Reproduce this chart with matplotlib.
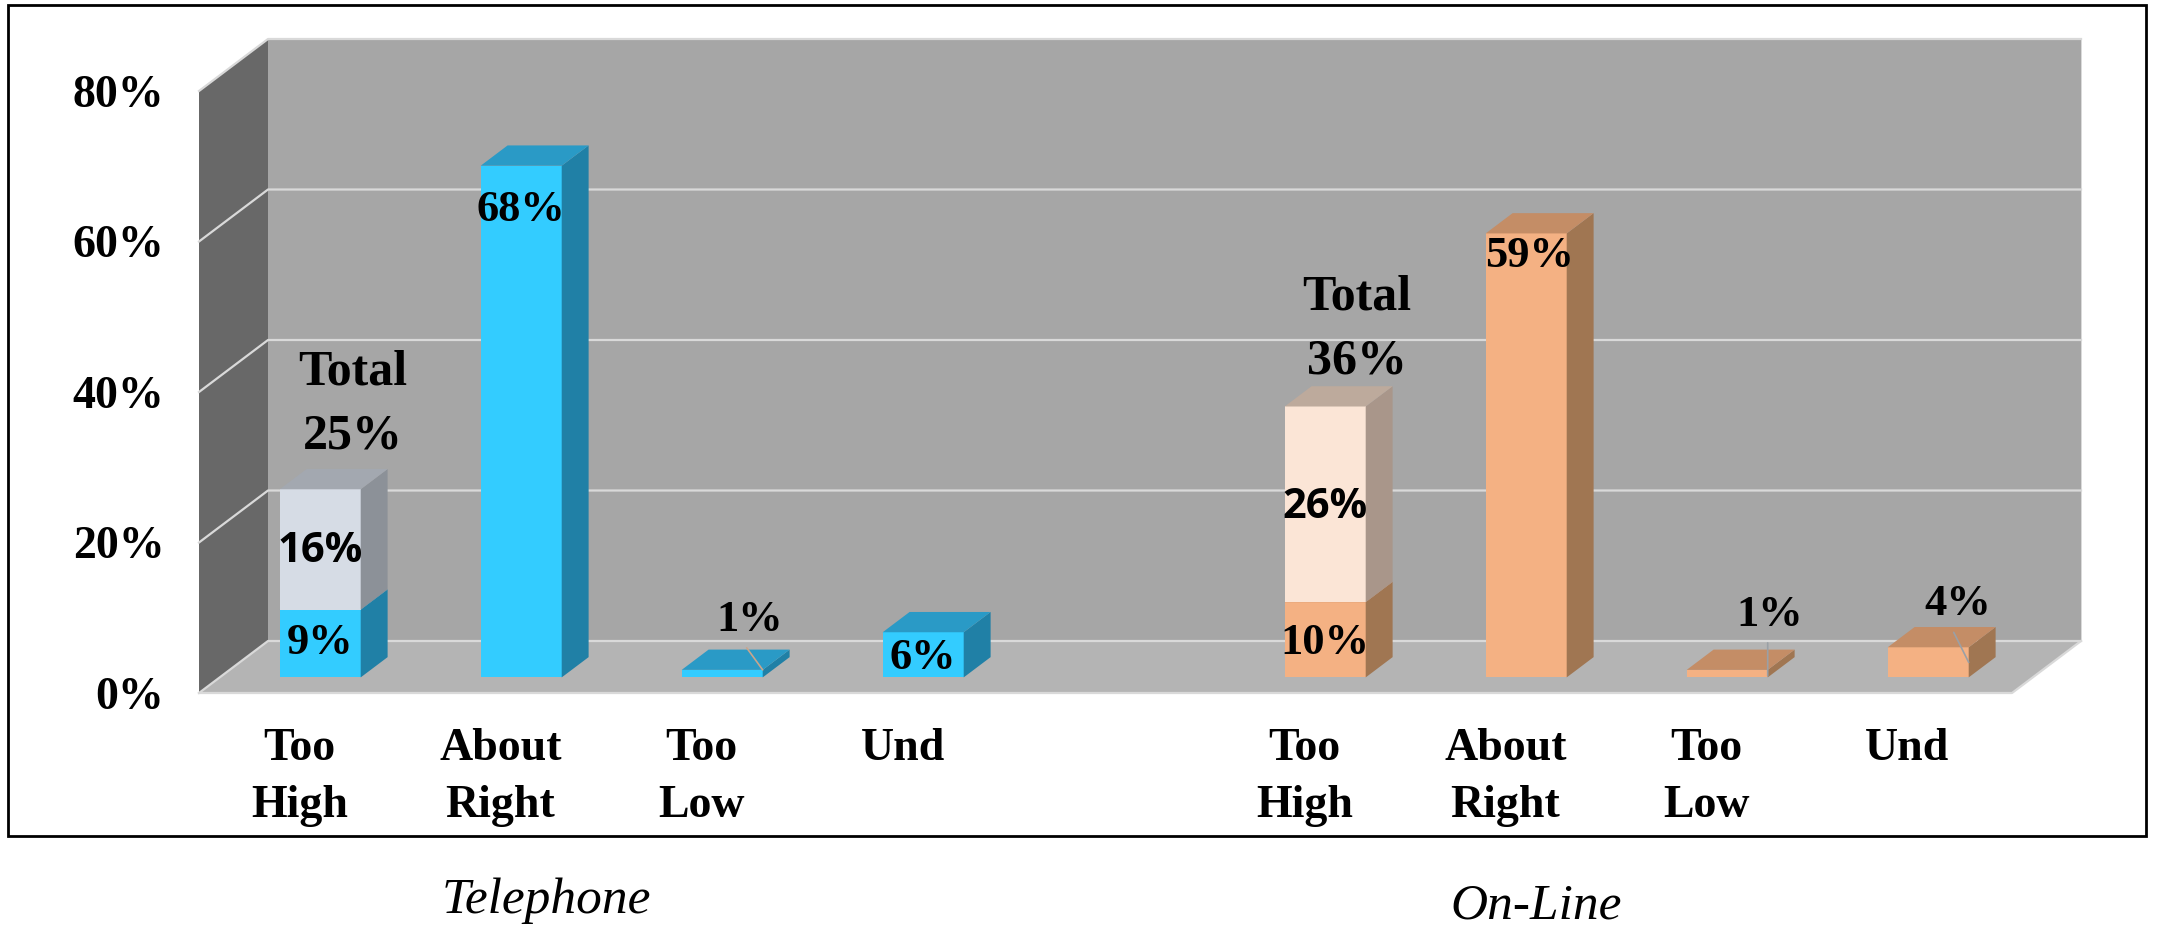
import matplotlib
matplotlib.use('Agg')
import matplotlib.pyplot as plt
from matplotlib.patches import Rectangle

plt.rcParams['font.family'] = ['Liberation Serif', 'DejaVu Serif']

# values
slots = [0, 1, 2, 3, 5, 6, 7, 8]
categories = ['Too\nHigh', 'About\nRight', 'Too\nLow', 'Und'] * 2
base_values = [9, 68, 1, 6, 10, 59, 1, 4]
extra_telephone = 16
extra_online = 26
y_ticks = [0, 20, 40, 60, 80]
groups = ['Telephone', 'On-Line']

W, H = 2157, 946
PX_SLOT = 201.0
PX_PCT = 7.525
DX = 69 / PX_SLOT      # full depth of the chart box, in axis units
DY = 52 / PX_PCT
D0 = 0.30              # where the bars start in the box
DB = 0.39              # depth of one bar
BAR_W = 0.403
X0, X1 = -0.5, 8.52

BLUE = ('#33CCFF', '#2A9AC6', '#2080A6')
PEACH = ('#F4B183', '#C48D66', '#A07652')
GREY_BLUE = ('#D6DCE5', '#A3A8B0', '#8C9198')
LIGHT_PEACH = ('#FBE5D6', '#BDAA9C', '#A9968A')


def draw_box(ax, x, bottom, height, cols):
    front, top, side = cols
    xl = x - BAR_W / 2 + D0 * DX
    xr = x + BAR_W / 2 + D0 * DX
    y0 = bottom + D0 * DY
    y1 = y0 + height
    ddx, ddy = DB * DX, DB * DY
    ax.bar(xl + BAR_W / 2, height, width=BAR_W, bottom=y0, color=front, zorder=3)
    ax.fill([xr, xr + ddx, xr + ddx, xr], [y0, y0 + ddy, y1 + ddy, y1], color=side, lw=0, zorder=3)
    ax.fill([xl, xr, xr + ddx, xl + ddx], [y1, y1, y1 + ddy, y1 + ddy], color=top, lw=0, zorder=3)


def label(ax, slot, value, text, ox, oy, size=32, **kw):
    # ox, oy in pixels, from the middle of the bar front at that value
    ax.annotate(text, xy=(slot + D0 * DX, value + D0 * DY), xytext=(ox, oy),
                textcoords='offset pixels', ha='center', va='center',
                fontsize=size, fontweight=kw.pop('fontweight', 'bold'),
                zorder=6, linespacing=kw.pop('linespacing', 1.35), **kw)


fig = plt.figure(figsize=(W / 100, H / 100), dpi=100, facecolor='white')
ax = fig.add_axes([199 / W, 1 - 693 / H, (X1 + DX - X0) * PX_SLOT / W, (80 + DY) * PX_PCT / H])
ax.set_xlim(X0, X1 + DX)
ax.set_ylim(0, 80 + DY)
for s in ax.spines.values():
    s.set_visible(False)
ax.patch.set_visible(False)

# walls and floor
ax.fill([X0 + DX, X1 + DX, X1 + DX, X0 + DX], [DY, DY, 80 + DY, 80 + DY], color='#A6A6A6', lw=0, zorder=1)
ax.fill([X0, X0 + DX, X0 + DX, X0], [0, DY, 80 + DY, 80], color='#686868', lw=0, zorder=1)
ax.fill([X0, X1, X1 + DX, X0 + DX], [0, 0, DY, DY], color='#B4B4B4', lw=0, zorder=1)

grid_c = '#D9D9D9'
for t in y_ticks:
    ax.plot([X0, X0 + DX, X1 + DX], [t, t + DY, t + DY], color=grid_c, lw=1.6, zorder=2, clip_on=False)
ax.plot([X0, X1, X1 + DX], [0, 0, DY], color=grid_c, lw=1.6, zorder=2, clip_on=False)
ax.plot([X1 + DX, X1 + DX], [DY, 80 + DY], color=grid_c, lw=0.7, zorder=2, clip_on=False)

# bars
for i, (slot, v) in enumerate(zip(slots, base_values)):
    draw_box(ax, slot, 0, v, BLUE if i < 4 else PEACH)
draw_box(ax, slots[0], base_values[0], extra_telephone, GREY_BLUE)
draw_box(ax, slots[4], base_values[4], extra_online, LIGHT_PEACH)

# leader lines
ax.annotate('', xy=(slots[2] + D0 * DX + BAR_W / 2, 1 + D0 * DY), xytext=(-16, 22), textcoords='offset pixels',
            arrowprops=dict(arrowstyle='-', color='#C9A58C', lw=1.2, shrinkA=0, shrinkB=0), zorder=5)
ax.annotate('', xy=(slots[6] + D0 * DX + BAR_W / 2, 1 + D0 * DY - 0.8), xytext=(0, 33), textcoords='offset pixels',
            arrowprops=dict(arrowstyle='-', color='#9AA0A6', lw=1.2, shrinkA=0, shrinkB=0), zorder=5)
ax.annotate('', xy=(slots[7] + D0 * DX + BAR_W / 2, 4 + D0 * DY - 2), xytext=(-15, 30), textcoords='offset pixels',
            arrowprops=dict(arrowstyle='-', color='#9AA0A6', lw=1.2, shrinkA=0, shrinkB=0), zorder=5)

# ticks
ax.set_yticks(y_ticks, [f'{t}%' for t in y_ticks], fontsize=33, fontweight='bold')
ax.set_xticks(slots, categories, fontsize=33, fontweight='bold', linespacing=1.48)
ax.tick_params(axis='y', length=0, pad=25)
ax.tick_params(axis='x', length=0, pad=25)

# data labels
label(ax, slots[0], base_values[0] / 2, f'{base_values[0]}%', 0, 1)
label(ax, slots[0], base_values[0] + extra_telephone / 2, f'{extra_telephone}%', 0, -2, size=30,
      family='Open Sans')
label(ax, slots[0], base_values[0] + extra_telephone, f'Total\n{base_values[0] + extra_telephone}%', 33, 85, size=36,
      linespacing=1.5)
label(ax, slots[1], base_values[1], f'{base_values[1]}%', 0, -44)
label(ax, slots[2], base_values[2], f'{base_values[2]}%', 27, 50)
label(ax, slots[3], base_values[3], f'{base_values[3]}%', 0, -26)
label(ax, slots[4], base_values[4] / 2, f'{base_values[4]}%', 0, -3)
label(ax, slots[4], base_values[4] + extra_online / 2, f'{extra_online}%', 0, -3, size=30, family='Open Sans')
label(ax, slots[4], base_values[4] + extra_online, f'Total\n{base_values[4] + extra_online}%', 32, 77, size=36,
      linespacing=1.5)
label(ax, slots[5], base_values[5], f'{base_values[5]}%', 3, -23)
label(ax, slots[6], base_values[6], f'{base_values[6]}%', 42, 55)
label(ax, slots[7], base_values[7], f'{base_values[7]}%', 30, 43)

# group captions and outer frame
fig.text(546 / W, 1 - 901 / H, groups[0], style='italic', fontsize=37, ha='center', va='center')
fig.text(1536 / W, 1 - 906 / H, groups[1], style='italic', fontsize=37, ha='center', va='center')
fig.add_artist(Rectangle((8 / W, 1 - 836 / H), 2138 / W, 831 / H, transform=fig.transFigure,
                         fill=False, edgecolor='black', lw=2))

fig.savefig('out.png', dpi=100)
